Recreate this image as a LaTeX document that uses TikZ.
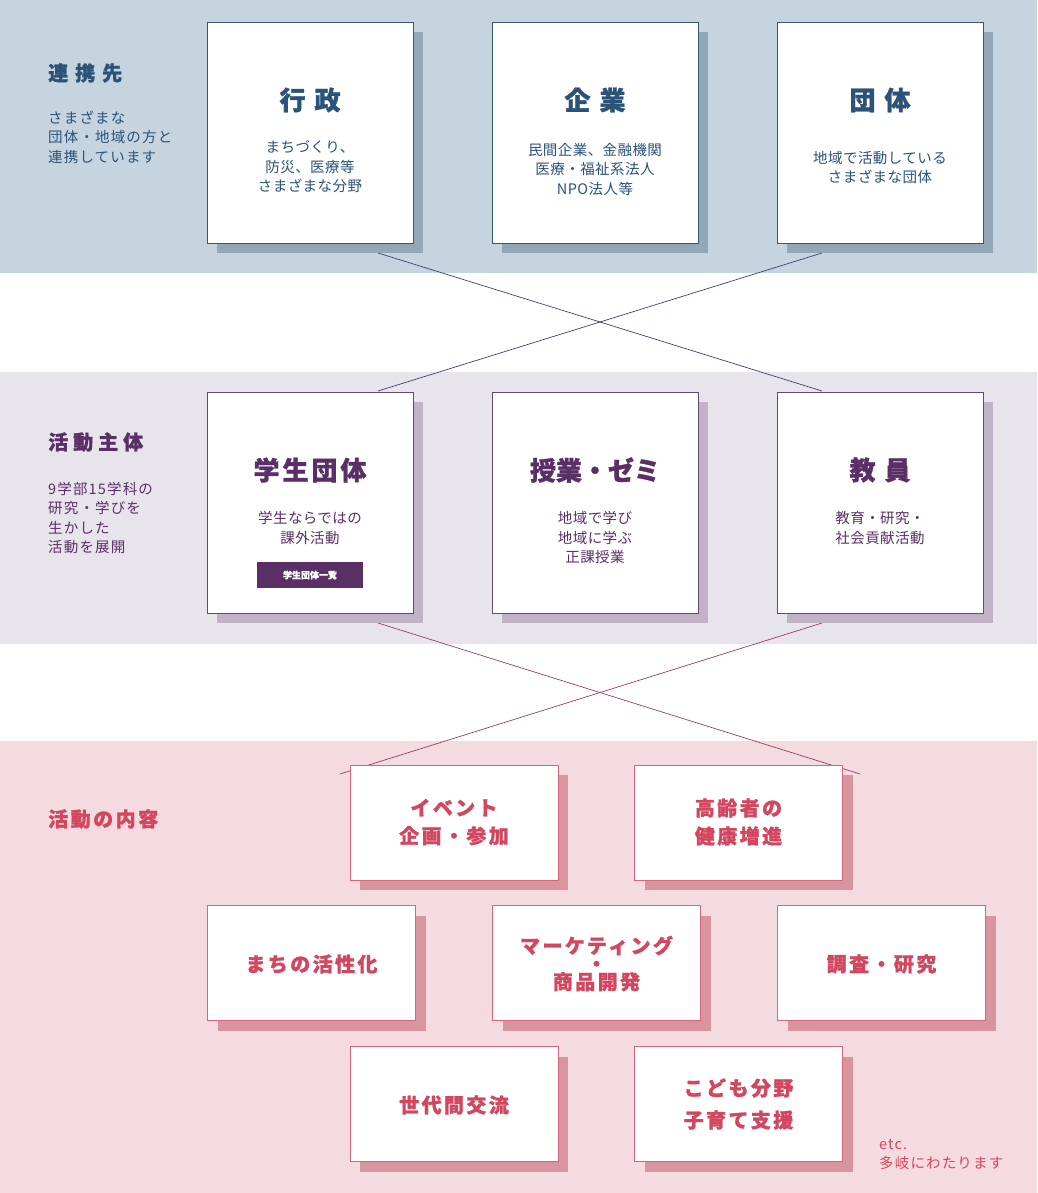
\documentclass[tikz,border=0pt]{standalone}
\usepackage{fontspec}
\setmainfont{Noto Sans CJK JP}[BoldFeatures={FakeBold=1.2}]
\usetikzlibrary{shadows}
\definecolor{topband}{HTML}{C6D4DF}
\definecolor{topshadow}{HTML}{93A7B6}
\definecolor{topborder}{HTML}{3A5676}
\definecolor{toptext}{HTML}{2B5278}
\definecolor{midband}{HTML}{E8E4EB}
\definecolor{midshadow}{HTML}{C2B2C8}
\definecolor{midborder}{HTML}{5E4B6E}
\definecolor{midtext}{HTML}{5A2F66}
\definecolor{botband}{HTML}{F4DBDF}
\definecolor{botshadow}{HTML}{D9959F}
\definecolor{botborder}{HTML}{D6657E}
\definecolor{bottext}{HTML}{D2475F}
\definecolor{line1}{HTML}{3D4070}
\definecolor{line2}{HTML}{993C66}
\begin{document}
\begin{tikzpicture}[x=1pt,y=-1pt,
  box/.style={rectangle, fill=white, line width=0.8pt, inner sep=0pt},
  bigbox/.style={box, minimum width=206pt, minimum height=221pt},
  smallbox/.style={box, minimum width=208pt, minimum height=115pt},
  topbox/.style={bigbox, draw=topborder, general shadow={fill=topshadow, shadow xshift=10pt, shadow yshift=-10pt}},
  midbox/.style={bigbox, draw=midborder, general shadow={fill=midshadow, shadow xshift=10pt, shadow yshift=-10pt}},
  botbox/.style={smallbox, draw=botborder, general shadow={fill=botshadow, shadow xshift=10pt, shadow yshift=-10pt}},
  title/.style={font=\fontsize{26}{30}\selectfont\bfseries, inner sep=0pt},
  sub/.style={font=\fontsize{14.5}{19.5}\selectfont\addfontfeature{LetterSpace=3}, align=center, inner sep=0pt},
  lab/.style={font=\fontsize{20}{24}\selectfont\bfseries, anchor=west, inner sep=0pt},
  desc/.style={font=\fontsize{14.5}{19.5}\selectfont\addfontfeature{LetterSpace=8}, align=left, anchor=west, inner sep=0pt},
  btitle/.style={font=\fontsize{20}{28}\selectfont\bfseries\addfontfeature{LetterSpace=12}, align=center, inner sep=0pt, text=bottext},
]
\useasboundingbox (0,0) rectangle (1037,1193);
% bands
\fill[topband] (0,0) rectangle (1037,273);
\fill[midband] (0,372) rectangle (1037,644);
\fill[botband] (0,741) rectangle (1037,1193);

% connector end points
\coordinate (t1) at (378,253);
\coordinate (t2) at (822,253);
\coordinate (m1) at (378,391);
\coordinate (m2) at (822,391);
\coordinate (u1) at (378,623);
\coordinate (u2) at (822,623);
\coordinate (b1) at (340,774);
\coordinate (b2) at (860,774);

\draw[line1, line width=0.7pt] (t1) -- (m2);
\draw[line1, line width=0.7pt] (t2) -- (m1);
\draw[line2, line width=0.7pt] (u1) -- (b2);
\draw[line2, line width=0.7pt] (u2) -- (b1);

% left labels
\node[lab, text=toptext] (l1) at (48,73) {連\hspace{7pt}携\hspace{7pt}先};
\node[desc, text=toptext] (d1) at (48,137) {さまざまな\\団体・地域の方と\\連携しています};
\node[lab, text=midtext] (l2) at (48,442) {活\hspace{5pt}動\hspace{5pt}主\hspace{5pt}体};
\node[desc, text=midtext] (d2) at (48,518) {9学部15学科の\\研究・学びを\\生かした\\活動を展開};
\node[lab, text=bottext] (l3) at (48,819) {活\hspace{2.5pt}動\hspace{2.5pt}の\hspace{2.5pt}内\hspace{2.5pt}容};

% top boxes
\node[topbox] (gyosei) at (310,132.5) {};
\node[topbox] (kigyo) at (595,132.5) {};
\node[topbox] (dantai) at (880,132.5) {};
\node[title, text=toptext] (gyoseiT) at (310,100) {行\hspace{9pt}政};
\node[title, text=toptext] (kigyoT) at (595,100) {企\hspace{9pt}業};
\node[title, text=toptext] (dantaiT) at (880,100) {団\hspace{9pt}体};
\node[sub, text=toptext] (gyoseiS) at (310,167) {まちづくり、\\防災、医療等\\さまざまな分野};
\node[sub, text=toptext] (kigyoS) at (595,169) {民間企業、金融機関\\医療・福祉系法人\\NPO法人等};
\node[sub, text=toptext] (dantaiS) at (880,167.5) {地域で活動している\\さまざまな団体};

% middle boxes
\node[midbox] (gakusei) at (310,502.5) {};
\node[midbox] (jugyo) at (595,502.5) {};
\node[midbox] (kyoin) at (880,502.5) {};
\node[title, text=midtext] (gakuseiT) at (310,470) {学\hspace{3pt}生\hspace{3pt}団\hspace{3pt}体};
\node[title, text=midtext] (jugyoT) at (595,470) {授業・ゼミ};
\node[title, text=midtext] (kyoinT) at (880,470) {教\hspace{9pt}員};
\node[sub, text=midtext] (gakuseiS) at (310,528) {学生ならではの\\課外活動};
\node[sub, text=midtext] (jugyoS) at (595,537.5) {地域で学び\\地域に学ぶ\\正課授業};
\node[sub, text=midtext] (kyoinS) at (880,528) {教育・研究・\\社会貢献活動};
\node[rectangle, fill=midtext, minimum width=106pt, minimum height=26pt, inner sep=0pt,
      text=white, font=\fontsize{9}{10}\selectfont\bfseries] (btn) at (310,575) {学生団体一覧};

% bottom boxes
\node[botbox] (event) at (454,822.5) {};
\node[botbox] (korei) at (738.5,822.5) {};
\node[botbox] (machi) at (311.5,963) {};
\node[botbox] (mkt) at (596.5,963) {};
\node[botbox] (chosa) at (881.5,963) {};
\node[botbox] (sedai) at (454,1104) {};
\node[botbox] (kodomo) at (738.5,1104) {};
\node[btitle] (eventT) at (454,822) {イベント\\企画・参加};
\node[btitle] (koreiT) at (738.5,822) {高齢者の\\健康増進};
\node[btitle] (machiT) at (311.5,964) {まちの活性化};
\node[btitle] (mktT) at (596.5,963.5) {マーケティング\\[-10pt]・\\[-10pt]商品開発};
\node[btitle] (chosaT) at (881.5,964) {調査・研究};
\node[btitle] (sedaiT) at (454,1105) {世代間交流};
\node[btitle] (kodomoT) at (738.5,1104) {こども分野\\[4pt]子育て支援};

% note
\node[desc, text=bottext, anchor=north west] (note) at (879,1139) {etc.\\多岐にわたります};
\end{tikzpicture}
\end{document}
